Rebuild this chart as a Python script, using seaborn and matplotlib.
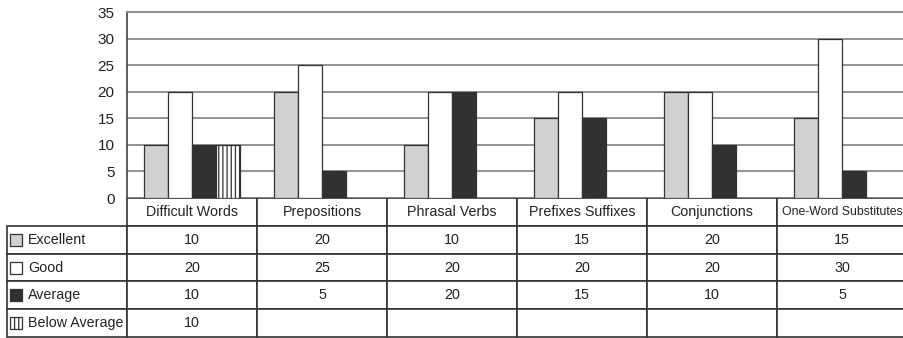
import pandas as pd
import numpy as np
import matplotlib
matplotlib.use('Agg')
import matplotlib.pyplot as plt
import seaborn as sns
from matplotlib.patches import Rectangle

# Chart data
categories = ['Difficult Words', 'Prepositions', 'Phrasal Verbs', 'Prefixes Suffixes',
              'Conjunctions', 'One-Word Substitutes']
ratings = ['Excellent', 'Good', 'Average', 'Below Average']
excellent = [10, 20, 10, 15, 20, 15]
good = [20, 25, 20, 20, 20, 30]
average = [10, 5, 20, 15, 10, 5]
below_average = [10, None, None, None, None, None]

colors = ['#d0d2d2', '#ffffff', '#333130', '#ffffff']
hatches = ['', '', '', '||||']

sns.set_theme(style='white')
plt.rcParams['font.family'] = ['Liberation Sans', 'DejaVu Sans']
plt.rcParams['hatch.color'] = '#333333'
plt.rcParams['hatch.linewidth'] = 0.9

# long format for seaborn
rows = []
for rating, vals in zip(ratings, [excellent, good, average, below_average]):
    for cat, v in zip(categories, vals):
        if v is not None:
            rows.append({'category': cat, 'rating': rating, 'score': v})
df = pd.DataFrame(rows)

fig = plt.figure(figsize=(9.04, 3.38), dpi=100)
W, H = 904, 338
ax = fig.add_axes([127 / W, 140 / H, 780 / W, 186 / H])

ax.yaxis.grid(True, color='#8a8a8a', linewidth=1.3, zorder=0)
ax.set_axisbelow(True)

sns.barplot(data=df, x='category', y='score', hue='rating', order=categories,
            hue_order=ratings, palette=colors, saturation=1, width=0.74,
            edgecolor='#333333', linewidth=0.9, ax=ax, legend=False, zorder=3)

for cont, h in zip(ax.containers, hatches):
    for p in cont:
        p.set_hatch(h)

ax.set_xlim(-0.5, 5.5)
ax.set_ylim(0, 35)
ax.set_yticks(range(0, 36, 5))
ax.tick_params(axis='y', length=0, pad=9, labelsize=11, labelcolor='#222222')
ax.set_xticks([])
ax.set_xlabel('')
ax.set_ylabel('')
for s in ['right', 'bottom']:
    ax.spines[s].set_visible(False)
ax.spines['top'].set_color('#8a8a8a')
ax.spines['top'].set_linewidth(1.3)
ax.spines['left'].set_color('#444444')
ax.spines['left'].set_linewidth(1.2)

# data table under the chart
def fmt(v):
    return '' if v is None else str(v)

cell_text = []
for rating, vals in zip(ratings, [excellent, good, average, below_average]):
    cell_text.append([rating] + [fmt(v) for v in vals])

tbl = ax.table(cellText=cell_text, colLabels=[''] + categories, cellLoc='center',
               bbox=[(7 - 127) / 780, -139 / 186, 900 / 780, 139 / 186])
tbl.auto_set_font_size(False)
tbl.set_fontsize(10.3)
for (r, c), cell in tbl.get_celld().items():
    cell.set_edgecolor('#333333')
    cell.set_linewidth(1.2)
    cell.set_width(120 if c == 0 else 130)
    cell.get_text().set_color('#222222')
    if c == 0 and r > 0:
        cell.PAD = 0.175
        cell.get_text().set_ha('left')
        cell._loc = 'left'
tbl[(0, 0)].visible_edges = ''
tbl[(0, 6)].get_text().set_fontsize(8.8)

# legend swatches in the label column
row_h = 139 / 5
for i, (col, h) in enumerate(zip(colors, hatches)):
    cy = 198 + row_h * (i + 1.5)
    sw = Rectangle((10 / W, (H - cy - 6) / H), 12 / W, 12 / H, transform=fig.transFigure,
                   facecolor=col, edgecolor='#333333', linewidth=0.9, hatch=h)
    fig.add_artist(sw)

fig.savefig('out.png', dpi=100)
